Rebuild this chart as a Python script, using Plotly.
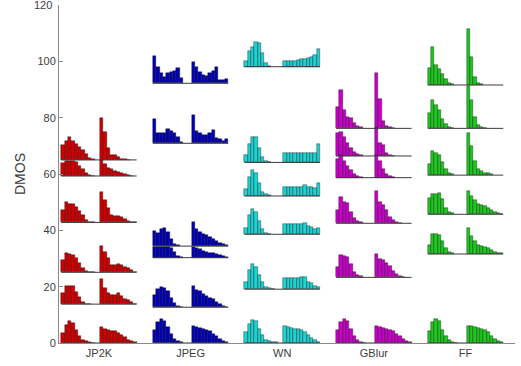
import plotly.graph_objects as go

CATEGORIES = ["JP2K", "JPEG", "WN", "GBlur", "FF"]
COLORS = ["#d00000", "#0000b4", "#1ed2d2", "#c800c8", "#1ec81e"]
Y_TICKS = [0, 20, 40, 60, 80, 100, 120]

# Baseline DMOS of each row of paired histograms, per distortion type
JP2K_BASE = [65.0, 59.3, 42.8, 25.1, 13.8, 0.0]
JPEG_BASE = [92.2, 70.9, 34.4, 30.3, 12.7, 0.0]
WN_BASE = [98.1, 64.1, 52.2, 38.6, 19.1, 0.0]
GBLUR_BASE = [76.2, 66.4, 58.7, 42.5, 23.3, 0.0]
FF_BASE = [91.6, 76.2, 59.6, 45.7, 31.6, 0.0]

# Histogram bin heights (DMOS units), one list per row: left and right panels
JP2K_LEFT = [
    [5.3, 6.7, 8.0, 6.6, 5.6, 4.6, 3.5, 2.1, 0.7, 0.2, 0],
    [4.6, 5.3, 5.3, 5.2, 4.8, 3.5, 2.4, 1.2, 0.3, 0.1, 0],
    [4.4, 7.1, 6.7, 6.4, 5.6, 4.1, 2.6, 0.8, 0.2, 0.1, 0],
    [4.4, 6.7, 6.5, 6.2, 5.0, 3.2, 1.4, 0.6, 0.2, 0.1, 0],
    [3.8, 6.5, 6.5, 6.5, 4.4, 2.6, 0.8, 0.2, 0.1, 0, 0],
    [3.6, 6.5, 7.7, 7.1, 4.7, 2.4, 1.2, 0.6, 0.2, 0.1, 0],
]
JP2K_RIGHT = [
    [15.0, 10.0, 4.4, 1.8, 1.8, 0.9, 0.4, 0.2, 0.1, 0, 0],
    [5.8, 4.1, 3.0, 2.4, 1.8, 1.4, 1.0, 0.6, 0.3, 0.1, 0],
    [10.9, 7.9, 5.0, 2.6, 2.4, 2.2, 1.8, 1.2, 0.6, 0.2, 0.1],
    [9.5, 7.1, 5.0, 2.6, 2.6, 2.8, 2.6, 2.0, 1.4, 0.8, 0.2],
    [9.1, 5.9, 3.8, 3.2, 3.2, 3.8, 2.8, 2.0, 1.4, 0.6, 0.2],
    [5.6, 5.1, 4.7, 4.4, 4.1, 3.5, 3.0, 2.0, 1.2, 0.6, 0.2],
]
JPEG_LEFT = [
    [9.7, 5.9, 3.6, 2.1, 3.6, 3.9, 4.5, 5.3, 1.8, 0, 0],
    [8.6, 3.6, 3.8, 3.8, 5.0, 4.5, 3.8, 2.1, 0.6, 0, 0],
    [5.3, 4.7, 5.9, 6.6, 5.1, 2.7, 0.9, 0.4, 0, 0, 0],
    [3.9, 3.9, 3.9, 3.9, 3.9, 3.3, 1.9, 0.6, 0.1, 0, 0],
    [4.4, 6.5, 7.3, 7.0, 5.6, 3.2, 1.4, 0.5, 0.1, 0, 0],
    [4.5, 7.5, 8.4, 7.7, 5.7, 3.3, 1.5, 0.7, 0.3, 0, 0],
]
JPEG_RIGHT = [
    [7.7, 5.9, 4.1, 3.0, 2.6, 3.6, 4.5, 5.7, 1.2, 1.2, 1.4],
    [10.0, 4.5, 3.6, 3.0, 3.0, 3.8, 4.7, 1.8, 1.4, 0.8, 1.4],
    [8.6, 5.9, 5.1, 4.3, 3.9, 3.3, 2.7, 1.9, 1.2, 0.7, 0.4],
    [3.9, 3.3, 3.0, 2.5, 2.1, 1.8, 1.5, 1.2, 0.8, 0.5, 0.2],
    [7.6, 6.2, 5.6, 4.7, 4.0, 3.4, 2.8, 2.0, 1.2, 0.6, 0.2],
    [5.9, 5.7, 5.4, 5.1, 4.7, 4.1, 3.3, 2.4, 1.5, 0.7, 0.3],
]
WN_LEFT = [
    [2.1, 5.7, 7.1, 8.6, 8.5, 5.0, 1.4, 0.4, 0, 0, 0],
    [2.6, 6.5, 9.1, 8.9, 5.0, 1.8, 0.6, 0.2, 0, 0, 0],
    [2.4, 6.9, 9.2, 8.0, 4.5, 1.5, 0.7, 0.2, 0, 0, 0],
    [2.4, 6.9, 8.9, 8.0, 4.7, 1.8, 0.6, 0.2, 0, 0, 0],
    [2.7, 6.9, 8.9, 8.0, 5.1, 2.4, 0.9, 0.5, 0.2, 0, 0],
    [3.9, 6.9, 8.3, 7.8, 5.1, 2.7, 1.2, 0.7, 0.4, 0.2, 0],
]
WN_RIGHT = [
    [2.1, 2.1, 2.1, 2.1, 2.4, 2.6, 2.6, 3.0, 3.5, 4.1, 6.2],
    [3.2, 3.2, 3.2, 3.2, 3.2, 3.2, 3.2, 3.2, 3.2, 3.2, 6.5],
    [3.1, 3.1, 3.1, 3.1, 3.1, 3.3, 3.9, 3.3, 3.3, 2.9, 4.5],
    [3.7, 3.7, 3.7, 3.7, 3.7, 3.8, 4.1, 3.0, 2.5, 1.8, 2.1],
    [4.1, 4.1, 4.1, 4.1, 4.1, 4.3, 4.5, 2.7, 2.1, 1.2, 0.7],
    [6.0, 5.7, 5.3, 5.1, 4.9, 4.7, 3.9, 2.7, 1.8, 0.9, 0.5],
]
GBLUR_LEFT = [
    [7.7, 13.6, 6.5, 3.9, 3.6, 2.0, 0.8, 0.4, 0, 0, 0],
    [8.0, 8.6, 6.6, 4.5, 2.7, 1.5, 0.6, 0.2, 0, 0, 0],
    [6.5, 7.9, 5.9, 4.1, 2.7, 1.2, 0.6, 0.2, 0, 0, 0],
    [4.7, 9.2, 7.7, 7.1, 4.1, 1.8, 0.8, 0.4, 0, 0, 0],
    [3.8, 7.9, 7.6, 7.1, 4.7, 2.0, 0.8, 0.4, 0, 0, 0],
    [4.5, 7.3, 8.5, 7.7, 5.0, 2.4, 0.9, 0.5, 0.1, 0, 0],
]
GBLUR_RIGHT = [
    [19.8, 10.3, 2.7, 0.8, 0.4, 0.1, 0, 0, 0, 0, 0],
    [9.8, 4.5, 3.9, 0.9, 0.4, 0.1, 0, 0, 0, 0, 0],
    [7.9, 5.9, 3.0, 1.2, 0.6, 0.2, 0, 0, 0, 0, 0],
    [11.5, 7.7, 6.5, 4.7, 2.4, 1.2, 0.6, 0.2, 0, 0, 0],
    [8.2, 6.7, 6.2, 5.2, 4.0, 2.4, 1.2, 0.5, 0.2, 0, 0],
    [6.2, 5.7, 5.3, 5.1, 4.7, 4.1, 3.3, 2.4, 1.4, 0.7, 0.4],
]
FF_LEFT = [
    [5.9, 13.4, 7.1, 5.6, 3.9, 2.0, 0.8, 0.4, 0, 0, 0],
    [5.3, 10.1, 8.3, 6.5, 3.2, 1.5, 0.6, 0.2, 0, 0, 0],
    [4.1, 8.4, 7.7, 7.1, 4.5, 2.1, 0.9, 0.3, 0, 0, 0],
    [5.9, 7.1, 7.3, 7.6, 5.6, 2.4, 0.8, 0.4, 0, 0, 0],
    [3.2, 7.1, 7.1, 6.7, 4.7, 2.0, 0.8, 0.2, 0, 0, 0],
    [4.1, 7.3, 8.5, 7.7, 4.7, 2.4, 0.9, 0.5, 0.1, 0, 0],
]
FF_RIGHT = [
    [19.8, 10.1, 3.0, 0.6, 0.2, 0, 0, 0, 0, 0, 0],
    [15.0, 10.1, 4.1, 1.2, 0.6, 0.2, 0, 0, 0, 0, 0],
    [15.1, 10.4, 5.1, 2.1, 1.3, 0.9, 0.6, 0.3, 0, 0, 0],
    [8.3, 6.4, 5.0, 3.8, 3.2, 2.8, 2.4, 1.4, 0.8, 0.5, 0.2],
    [9.1, 6.4, 4.7, 3.2, 2.8, 2.6, 2.0, 1.4, 0.8, 0.5, 0.2],
    [6.2, 5.9, 5.6, 5.3, 5.0, 4.5, 3.8, 2.6, 1.4, 0.7, 0.4],
]

GROUPS = [
    (JP2K_BASE, JP2K_LEFT, JP2K_RIGHT),
    (JPEG_BASE, JPEG_LEFT, JPEG_RIGHT),
    (WN_BASE, WN_LEFT, WN_RIGHT),
    (GBLUR_BASE, GBLUR_LEFT, GBLUR_RIGHT),
    (FF_BASE, FF_LEFT, FF_RIGHT),
]

W = 0.0364          # bin width in category units
LEFT_START = -0.412
RIGHT_START = 0.011
NBINS = 11

fig = go.Figure()
for ci, (name, color, (bases, lefts, rights)) in enumerate(zip(CATEGORIES, COLORS, GROUPS)):
    c = ci + 1
    xs, ys, bs = [], [], []
    for base, lh, rh in zip(bases, lefts, rights):
        for start, hist in ((LEFT_START, lh), (RIGHT_START, rh)):
            for j, h in enumerate(hist):
                if h > 0:
                    xs.append(c + start + (j + 0.5) * W)
                    ys.append(h)
                    bs.append(base)
    fig.add_trace(go.Bar(
        x=xs, y=ys, base=bs, width=W, name=name,
        marker=dict(color=color, line=dict(color="rgba(0,0,0,0.7)", width=0.5)),
        showlegend=False, hoverinfo="skip",
    ))
    lx, ly = [], []
    for base in bases:
        lx += [c + LEFT_START, c + RIGHT_START + NBINS * W, None]
        ly += [base, base, None]
    fig.add_trace(go.Scatter(
        x=lx, y=ly, mode="lines", line=dict(color="#3a3a3a", width=1),
        showlegend=False, hoverinfo="skip",
    ))

fig.update_layout(
    width=521, height=366,
    margin=dict(l=59, r=6, t=5, b=23),
    paper_bgcolor="white", plot_bgcolor="white",
    barmode="overlay", bargap=0,
    font=dict(family="Liberation Sans, Arial, sans-serif", size=11, color="#3c3c3c"),
)
fig.update_xaxes(
    range=[0.564, 5.54], tickvals=[1, 2, 3, 4, 5], ticktext=CATEGORIES,
    showgrid=False, zeroline=False, showline=True, linecolor="#8a8a8a", linewidth=1,
    ticks="", tickfont=dict(size=11), automargin=False,
)
fig.update_yaxes(
    range=[0, 120], tickvals=Y_TICKS,
    showgrid=False, zeroline=False, showline=True, linecolor="#8a8a8a", linewidth=1,
    ticks="inside", ticklen=4, tickcolor="#8a8a8a", tickfont=dict(size=11),
    title=dict(text="DMOS", font=dict(size=14), standoff=8), automargin=False,
)
# top tick label sits at the figure edge, where plotly drops it; draw it as text
fig.add_annotation(
    xref="paper", yref="y", x=0, y=Y_TICKS[-1], text=str(Y_TICKS[-1]),
    showarrow=False, xanchor="right", yanchor="middle", xshift=-5,
    font=dict(size=11, color="#3c3c3c"),
)
fig.write_html(
    "out.html",
    config={"displayModeBar": False},
    post_script="document.body.style.margin='0px';",
)
